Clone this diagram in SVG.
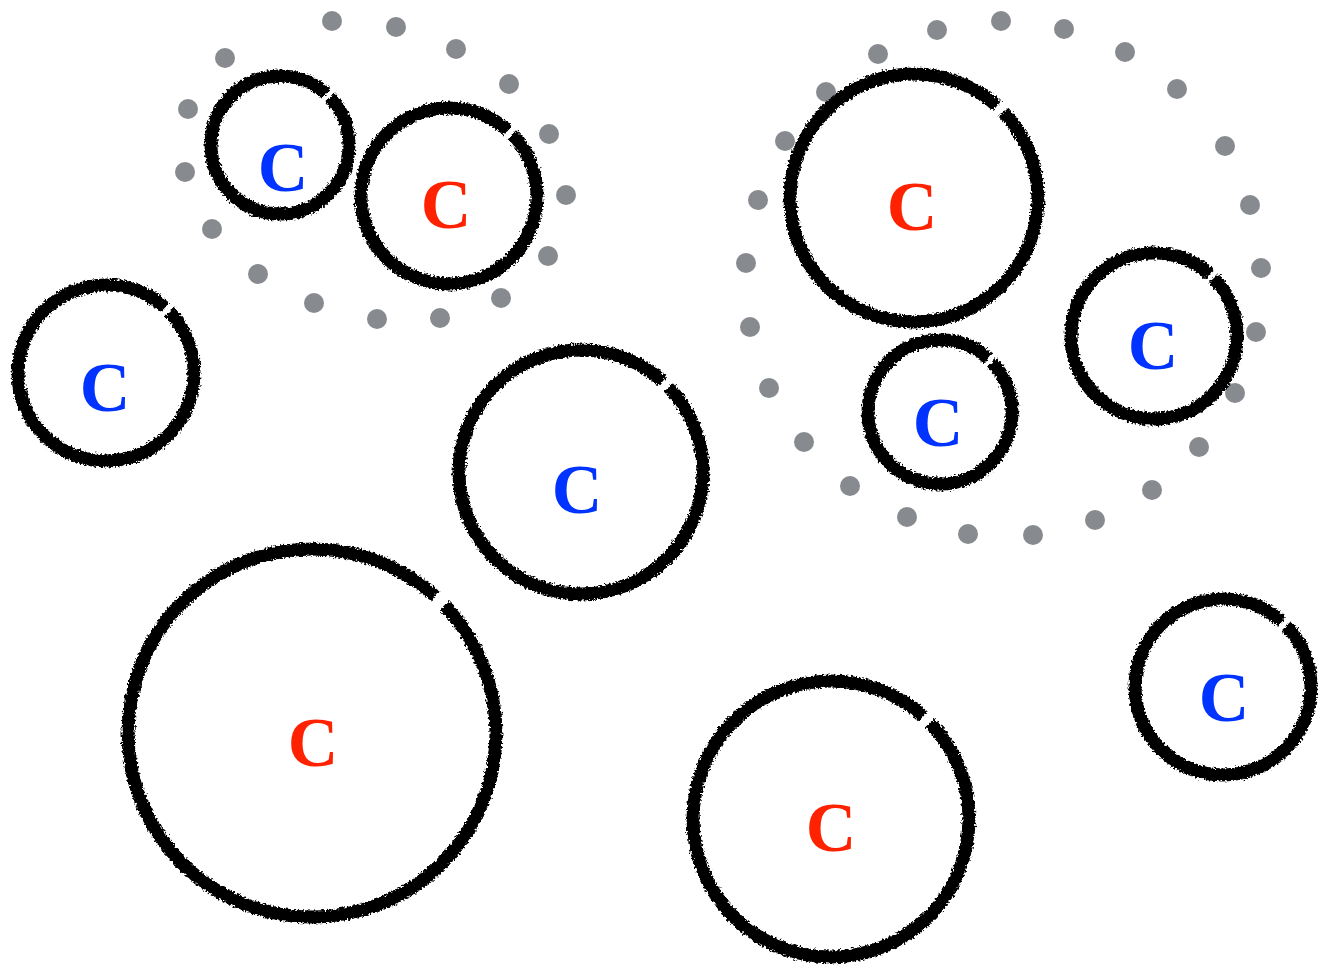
<svg xmlns="http://www.w3.org/2000/svg" width="1318" height="965" viewBox="0 0 1318 965">
<defs>
<filter id="rough" x="-10%" y="-10%" width="120%" height="120%">
<feTurbulence type="fractalNoise" baseFrequency="0.45" numOctaves="2" seed="3" result="n"/>
<feDisplacementMap in="SourceGraphic" in2="n" scale="6" xChannelSelector="R" yChannelSelector="G"/>
</filter>
</defs>
<style>
.ring{fill:none;stroke:#000;stroke-width:13;stroke-dasharray:312 4 44;filter:url(#rough)}
.lbl{font-family:"Liberation Serif","DejaVu Serif",serif;font-weight:bold;font-size:70px;text-anchor:middle}
.b{fill:#0033ff}
.r{fill:#ff2200}
.dot{fill:#878a8f}
</style>
<rect width="1318" height="965" fill="#fff"/>
<g id="cluster-left">
<circle class="dot" cx="332" cy="21" r="10"/><circle class="dot" cx="396" cy="27" r="10"/><circle class="dot" cx="456" cy="49" r="10"/><circle class="dot" cx="509" cy="84" r="10"/><circle class="dot" cx="549" cy="134" r="10"/><circle class="dot" cx="566" cy="195" r="10"/><circle class="dot" cx="548" cy="256" r="10"/><circle class="dot" cx="501" cy="298" r="10"/><circle class="dot" cx="440" cy="318" r="10"/><circle class="dot" cx="377" cy="319" r="10"/><circle class="dot" cx="314" cy="303" r="10"/><circle class="dot" cx="258" cy="274" r="10"/><circle class="dot" cx="212" cy="229" r="10"/><circle class="dot" cx="185" cy="172" r="10"/><circle class="dot" cx="188" cy="109" r="10"/><circle class="dot" cx="225" cy="58" r="10"/>
</g>
<g id="cluster-right">
<circle class="dot" cx="937" cy="30" r="10"/><circle class="dot" cx="1001" cy="21" r="10"/><circle class="dot" cx="1064" cy="29" r="10"/><circle class="dot" cx="1125" cy="52" r="10"/><circle class="dot" cx="1177" cy="89" r="10"/><circle class="dot" cx="1225" cy="146" r="10"/><circle class="dot" cx="1250" cy="205" r="10"/><circle class="dot" cx="1261" cy="268" r="10"/><circle class="dot" cx="1256" cy="332" r="10"/><circle class="dot" cx="1235" cy="393" r="10"/><circle class="dot" cx="1199" cy="447" r="10"/><circle class="dot" cx="1152" cy="490" r="10"/><circle class="dot" cx="1095" cy="520" r="10"/><circle class="dot" cx="1033" cy="535" r="10"/><circle class="dot" cx="968" cy="534" r="10"/><circle class="dot" cx="907" cy="517" r="10"/><circle class="dot" cx="850" cy="486" r="10"/><circle class="dot" cx="804" cy="442" r="10"/><circle class="dot" cx="769" cy="388" r="10"/><circle class="dot" cx="750" cy="327" r="10"/><circle class="dot" cx="746" cy="263" r="10"/><circle class="dot" cx="758" cy="200" r="10"/><circle class="dot" cx="785" cy="141" r="10"/><circle class="dot" cx="826" cy="92" r="10"/><circle class="dot" cx="878" cy="54" r="10"/>
</g>
<g id="connectors"></g>
<g id="n1"><circle class="ring" cx="280" cy="145" r="69" pathLength="360"/><text class="lbl b" x="283" y="191">C</text></g>
<g id="n2"><circle class="ring" cx="449" cy="196" r="88" pathLength="360"/><text class="lbl r" x="446" y="228">C</text></g>
<g id="n3"><circle class="ring" cx="106" cy="373" r="88" pathLength="360"/><text class="lbl b" x="105" y="411">C</text></g>
<g id="n4"><circle class="ring" cx="581" cy="472" r="122" pathLength="360"/><text class="lbl b" x="577" y="513">C</text></g>
<g id="n5"><circle class="ring" cx="312" cy="733" r="184" pathLength="360"/><text class="lbl r" x="313" y="766">C</text></g>
<g id="n6"><circle class="ring" cx="831" cy="819" r="138" pathLength="360"/><text class="lbl r" x="831" y="851">C</text></g>
<g id="n7"><circle class="ring" cx="1223" cy="687" r="88" pathLength="360"/><text class="lbl b" x="1224" y="721">C</text></g>
<g id="n8"><circle class="ring" cx="914" cy="198" r="124" pathLength="360"/><text class="lbl r" x="912" y="230">C</text></g>
<g id="n9"><circle class="ring" cx="940" cy="412" r="72" pathLength="360"/><text class="lbl b" x="938" y="446">C</text></g>
<g id="n10"><circle class="ring" cx="1154" cy="336" r="83" pathLength="360"/><text class="lbl b" x="1153" y="369">C</text></g>
</svg>
